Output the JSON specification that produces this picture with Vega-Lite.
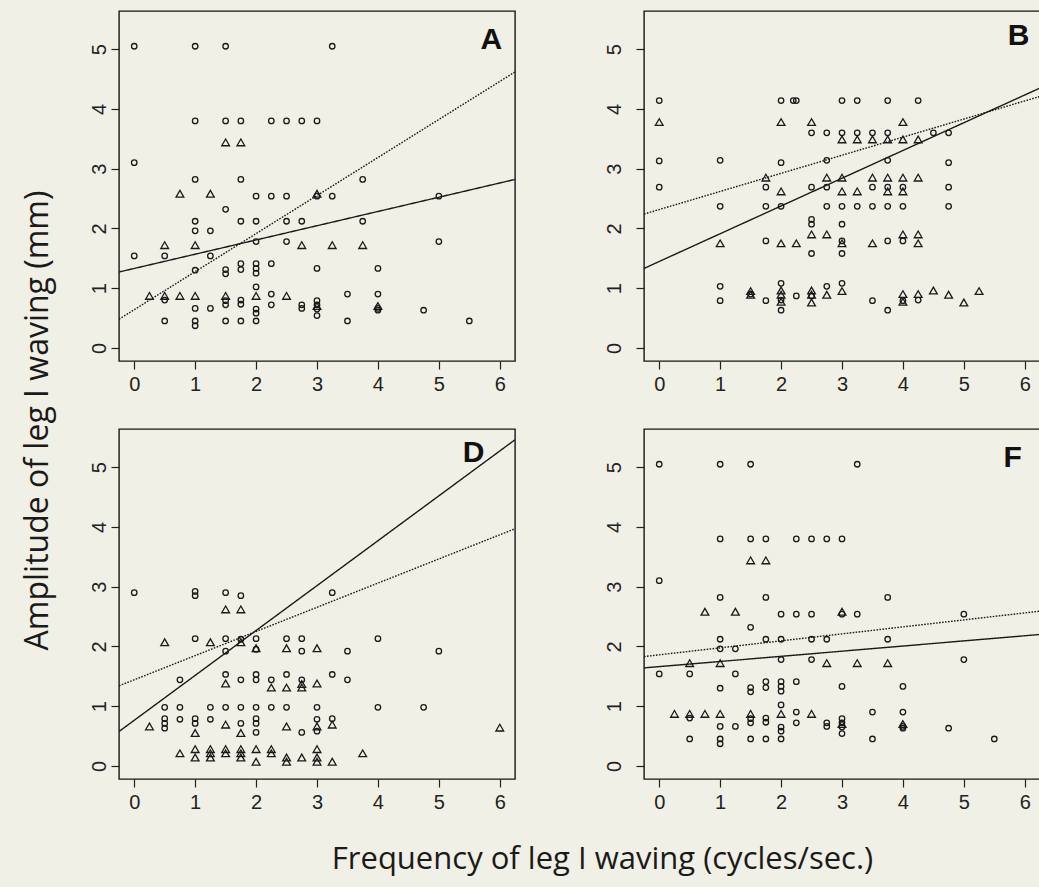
{
  "$schema": "https://vega.github.io/schema/vega-lite/v6.json",
  "background": "#f1f0e6",
  "padding": {"left": 22, "top": 10, "right": 0, "bottom": 12},
  "config": {
    "view": {"stroke": "#161616", "strokeWidth": 1.4},
    "font": "Liberation Sans",
    "axis": {"grid": false, "domain": false, "tickColor": "#222", "tickWidth": 1.2, "tickSize": 8, "labelColor": "#222", "labelFont": "Liberation Sans", "labelFontSize": 20, "title": null, "format": "d"}
  },
  "datasets": {
    "pointsAF": [
      {"x":0,"y":5.05,"s":"c"},{"x":1,"y":5.05,"s":"c"},{"x":1.5,"y":5.05,"s":"c"},{"x":3.25,"y":5.05,"s":"c"},
      {"x":1,"y":3.8,"s":"c"},{"x":1.5,"y":3.8,"s":"c"},{"x":1.75,"y":3.8,"s":"c"},{"x":2.25,"y":3.8,"s":"c"},{"x":2.5,"y":3.8,"s":"c"},{"x":2.75,"y":3.8,"s":"c"},{"x":3,"y":3.8,"s":"c"},
      {"x":0,"y":3.1,"s":"c"},
      {"x":1,"y":2.82,"s":"c"},{"x":1.75,"y":2.82,"s":"c"},{"x":3.75,"y":2.82,"s":"c"},
      {"x":2,"y":2.54,"s":"c"},{"x":2.25,"y":2.54,"s":"c"},{"x":2.5,"y":2.54,"s":"c"},{"x":3,"y":2.54,"s":"c"},{"x":3.25,"y":2.54,"s":"c"},{"x":5,"y":2.54,"s":"c"},
      {"x":1.5,"y":2.32,"s":"c"},
      {"x":1,"y":2.12,"s":"c"},{"x":1.75,"y":2.12,"s":"c"},{"x":2,"y":2.12,"s":"c"},{"x":2.5,"y":2.12,"s":"c"},{"x":2.75,"y":2.12,"s":"c"},{"x":3.75,"y":2.12,"s":"c"},
      {"x":1,"y":1.96,"s":"c"},{"x":1.25,"y":1.96,"s":"c"},
      {"x":2,"y":1.78,"s":"c"},{"x":2.5,"y":1.78,"s":"c"},{"x":5,"y":1.78,"s":"c"},
      {"x":0,"y":1.54,"s":"c"},{"x":0.5,"y":1.54,"s":"c"},{"x":1.25,"y":1.54,"s":"c"},
      {"x":1.75,"y":1.41,"s":"c"},{"x":2,"y":1.41,"s":"c"},{"x":2.25,"y":1.41,"s":"c"},
      {"x":1,"y":1.3,"s":"c"},{"x":1.5,"y":1.31,"s":"c"},{"x":1.5,"y":1.24,"s":"c"},{"x":1.75,"y":1.31,"s":"c"},{"x":2,"y":1.33,"s":"c"},{"x":2,"y":1.25,"s":"c"},{"x":3,"y":1.33,"s":"c"},{"x":4,"y":1.33,"s":"c"},
      {"x":2,"y":1.02,"s":"c"},
      {"x":2.25,"y":0.9,"s":"c"},{"x":3.5,"y":0.9,"s":"c"},{"x":4,"y":0.9,"s":"c"},
      {"x":0.5,"y":0.8,"s":"c"},{"x":1.5,"y":0.79,"s":"c"},{"x":1.5,"y":0.72,"s":"c"},{"x":1.75,"y":0.8,"s":"c"},{"x":1.75,"y":0.73,"s":"c"},{"x":2.25,"y":0.72,"s":"c"},{"x":2.75,"y":0.72,"s":"c"},{"x":2.75,"y":0.66,"s":"c"},
      {"x":3,"y":0.79,"s":"c"},{"x":3,"y":0.72,"s":"c"},{"x":3,"y":0.65,"s":"c"},{"x":3,"y":0.54,"s":"c"},{"x":2,"y":0.65,"s":"c"},{"x":2,"y":0.58,"s":"c"},{"x":4,"y":0.66,"s":"c"},{"x":4,"y":0.63,"s":"c"},
      {"x":1,"y":0.66,"s":"c"},{"x":1.25,"y":0.66,"s":"c"},{"x":4.75,"y":0.63,"s":"c"},
      {"x":0.5,"y":0.45,"s":"c"},{"x":1,"y":0.45,"s":"c"},{"x":1.5,"y":0.45,"s":"c"},{"x":1.75,"y":0.45,"s":"c"},{"x":2,"y":0.45,"s":"c"},{"x":3.5,"y":0.45,"s":"c"},{"x":5.5,"y":0.45,"s":"c"},{"x":1,"y":0.37,"s":"c"},
      {"x":1.5,"y":3.44,"s":"t"},{"x":1.75,"y":3.44,"s":"t"},{"x":0.75,"y":2.58,"s":"t"},{"x":1.25,"y":2.58,"s":"t"},{"x":3,"y":2.58,"s":"t"},
      {"x":0.5,"y":1.72,"s":"t"},{"x":1,"y":1.72,"s":"t"},{"x":2.75,"y":1.72,"s":"t"},{"x":3.25,"y":1.72,"s":"t"},{"x":3.75,"y":1.72,"s":"t"},
      {"x":0.25,"y":0.87,"s":"t"},{"x":0.5,"y":0.87,"s":"t"},{"x":0.75,"y":0.87,"s":"t"},{"x":1,"y":0.87,"s":"t"},{"x":1.5,"y":0.87,"s":"t"},{"x":2,"y":0.87,"s":"t"},{"x":2.5,"y":0.87,"s":"t"},{"x":3,"y":0.7,"s":"t"},{"x":4,"y":0.7,"s":"t"}
    ],
    "pointsB": [
      {"x":0,"y":4.14,"s":"c"},{"x":0,"y":3.13,"s":"c"},{"x":0,"y":2.69,"s":"c"},
      {"x":2,"y":4.14,"s":"c"},{"x":2.2,"y":4.14,"s":"c"},{"x":2.25,"y":4.14,"s":"c"},{"x":3,"y":4.14,"s":"c"},{"x":3.25,"y":4.14,"s":"c"},{"x":3.75,"y":4.14,"s":"c"},{"x":4.25,"y":4.14,"s":"c"},
      {"x":2.5,"y":3.6,"s":"c"},{"x":2.75,"y":3.6,"s":"c"},{"x":3,"y":3.6,"s":"c"},{"x":3.25,"y":3.6,"s":"c"},{"x":3.5,"y":3.6,"s":"c"},{"x":3.75,"y":3.6,"s":"c"},{"x":4.5,"y":3.6,"s":"c"},{"x":4.75,"y":3.6,"s":"c"},
      {"x":1,"y":3.14,"s":"c"},{"x":2.75,"y":3.14,"s":"c"},{"x":3.75,"y":3.14,"s":"c"},{"x":2,"y":3.1,"s":"c"},{"x":4.75,"y":3.1,"s":"c"},
      {"x":1.75,"y":2.69,"s":"c"},{"x":2.5,"y":2.69,"s":"c"},{"x":2.75,"y":2.69,"s":"c"},{"x":3.5,"y":2.69,"s":"c"},{"x":3.75,"y":2.69,"s":"c"},{"x":4,"y":2.69,"s":"c"},{"x":4.75,"y":2.69,"s":"c"},
      {"x":1,"y":2.37,"s":"c"},{"x":1.75,"y":2.37,"s":"c"},{"x":2,"y":2.37,"s":"c"},{"x":2.75,"y":2.37,"s":"c"},{"x":3,"y":2.37,"s":"c"},{"x":3.25,"y":2.37,"s":"c"},{"x":3.5,"y":2.37,"s":"c"},{"x":3.75,"y":2.37,"s":"c"},{"x":4,"y":2.37,"s":"c"},{"x":4.75,"y":2.37,"s":"c"},
      {"x":2.5,"y":2.15,"s":"c"},{"x":2.5,"y":2.07,"s":"c"},{"x":3,"y":2.07,"s":"c"},
      {"x":1.75,"y":1.79,"s":"c"},{"x":3,"y":1.79,"s":"c"},{"x":3.75,"y":1.79,"s":"c"},{"x":4,"y":1.79,"s":"c"},
      {"x":2.5,"y":1.58,"s":"c"},{"x":3,"y":1.58,"s":"c"},
      {"x":1,"y":1.03,"s":"c"},{"x":1,"y":0.79,"s":"c"},{"x":1.75,"y":0.79,"s":"c"},{"x":2,"y":1.08,"s":"c"},{"x":2,"y":0.8,"s":"c"},{"x":2,"y":0.63,"s":"c"},{"x":2.25,"y":0.87,"s":"c"},{"x":2.5,"y":0.87,"s":"c"},{"x":2.75,"y":1.03,"s":"c"},{"x":3,"y":1.08,"s":"c"},{"x":3.5,"y":0.79,"s":"c"},{"x":3.75,"y":0.63,"s":"c"},{"x":4,"y":0.79,"s":"c"},{"x":4.25,"y":0.8,"s":"c"},{"x":1.5,"y":0.9,"s":"c"},
      {"x":0,"y":3.78,"s":"t"},{"x":2,"y":3.78,"s":"t"},{"x":2.5,"y":3.78,"s":"t"},{"x":4,"y":3.78,"s":"t"},
      {"x":3,"y":3.49,"s":"t"},{"x":3.25,"y":3.49,"s":"t"},{"x":3.5,"y":3.49,"s":"t"},{"x":3.75,"y":3.49,"s":"t"},{"x":4,"y":3.49,"s":"t"},{"x":4.25,"y":3.49,"s":"t"},
      {"x":1.75,"y":2.85,"s":"t"},{"x":2.75,"y":2.85,"s":"t"},{"x":3,"y":2.85,"s":"t"},{"x":3.5,"y":2.85,"s":"t"},{"x":3.75,"y":2.85,"s":"t"},{"x":4,"y":2.85,"s":"t"},{"x":4.25,"y":2.85,"s":"t"},
      {"x":2,"y":2.62,"s":"t"},{"x":3,"y":2.62,"s":"t"},{"x":3.25,"y":2.62,"s":"t"},{"x":3.75,"y":2.62,"s":"t"},{"x":4,"y":2.62,"s":"t"},
      {"x":2.5,"y":1.9,"s":"t"},{"x":2.75,"y":1.9,"s":"t"},{"x":4,"y":1.9,"s":"t"},{"x":4.25,"y":1.9,"s":"t"},
      {"x":1,"y":1.75,"s":"t"},{"x":2,"y":1.75,"s":"t"},{"x":2.25,"y":1.75,"s":"t"},{"x":3,"y":1.75,"s":"t"},{"x":3.5,"y":1.75,"s":"t"},{"x":4.25,"y":1.75,"s":"t"},
      {"x":1.5,"y":0.95,"s":"t"},{"x":1.5,"y":0.89,"s":"t"},{"x":2,"y":0.96,"s":"t"},{"x":2,"y":0.89,"s":"t"},{"x":2,"y":0.77,"s":"t"},{"x":2.5,"y":0.96,"s":"t"},{"x":2.5,"y":0.89,"s":"t"},{"x":2.5,"y":0.76,"s":"t"},{"x":2.75,"y":0.89,"s":"t"},{"x":3,"y":0.95,"s":"t"},{"x":4,"y":0.9,"s":"t"},{"x":4,"y":0.77,"s":"t"},{"x":4.25,"y":0.9,"s":"t"},{"x":4.5,"y":0.96,"s":"t"},{"x":4.75,"y":0.89,"s":"t"},{"x":5,"y":0.76,"s":"t"},{"x":5.25,"y":0.95,"s":"t"}
    ],
    "pointsD": [
      {"x":0,"y":2.9,"s":"c"},{"x":1,"y":2.92,"s":"c"},{"x":1,"y":2.85,"s":"c"},{"x":1.5,"y":2.9,"s":"c"},{"x":1.75,"y":2.85,"s":"c"},{"x":3.25,"y":2.9,"s":"c"},
      {"x":1,"y":2.13,"s":"c"},{"x":1.5,"y":2.13,"s":"c"},{"x":2,"y":2.13,"s":"c"},{"x":2.5,"y":2.13,"s":"c"},{"x":2.75,"y":2.13,"s":"c"},{"x":4,"y":2.13,"s":"c"},{"x":1.75,"y":2.12,"s":"c"},
      {"x":1.5,"y":1.92,"s":"c"},{"x":2.75,"y":1.92,"s":"c"},{"x":3.5,"y":1.92,"s":"c"},{"x":5,"y":1.92,"s":"c"},{"x":2,"y":1.95,"s":"c"},
      {"x":1.5,"y":1.53,"s":"c"},{"x":2,"y":1.53,"s":"c"},{"x":2.5,"y":1.53,"s":"c"},{"x":3.25,"y":1.53,"s":"c"},
      {"x":0.75,"y":1.44,"s":"c"},{"x":1.75,"y":1.44,"s":"c"},{"x":2,"y":1.44,"s":"c"},{"x":2.25,"y":1.44,"s":"c"},{"x":2.75,"y":1.44,"s":"c"},{"x":3.5,"y":1.44,"s":"c"},
      {"x":0.5,"y":0.98,"s":"c"},{"x":0.75,"y":0.98,"s":"c"},{"x":1.25,"y":0.98,"s":"c"},{"x":1.5,"y":0.98,"s":"c"},{"x":1.75,"y":0.98,"s":"c"},{"x":2,"y":0.98,"s":"c"},{"x":2.25,"y":0.98,"s":"c"},{"x":2.5,"y":0.98,"s":"c"},{"x":3,"y":0.98,"s":"c"},{"x":4,"y":0.98,"s":"c"},{"x":4.75,"y":0.98,"s":"c"},
      {"x":0.5,"y":0.79,"s":"c"},{"x":0.5,"y":0.71,"s":"c"},{"x":0.5,"y":0.63,"s":"c"},{"x":0.75,"y":0.78,"s":"c"},{"x":1,"y":0.79,"s":"c"},{"x":1,"y":0.71,"s":"c"},{"x":1.25,"y":0.78,"s":"c"},{"x":1.75,"y":0.71,"s":"c"},{"x":2,"y":0.79,"s":"c"},{"x":2,"y":0.71,"s":"c"},{"x":3,"y":0.78,"s":"c"},{"x":3.25,"y":0.79,"s":"c"},{"x":2,"y":0.56,"s":"c"},{"x":2.75,"y":0.56,"s":"c"},{"x":3,"y":0.58,"s":"c"},
      {"x":1.5,"y":2.62,"s":"t"},{"x":1.75,"y":2.62,"s":"t"},
      {"x":0.5,"y":2.07,"s":"t"},{"x":1.25,"y":2.07,"s":"t"},{"x":1.75,"y":2.07,"s":"t"},
      {"x":2,"y":1.97,"s":"t"},{"x":2.5,"y":1.97,"s":"t"},{"x":3,"y":1.97,"s":"t"},
      {"x":1.5,"y":1.38,"s":"t"},{"x":3,"y":1.38,"s":"t"},{"x":2.25,"y":1.31,"s":"t"},{"x":2.5,"y":1.31,"s":"t"},{"x":2.75,"y":1.31,"s":"t"},{"x":2.75,"y":1.37,"s":"t"},
      {"x":0.25,"y":0.66,"s":"t"},{"x":1.5,"y":0.69,"s":"t"},{"x":2.5,"y":0.66,"s":"t"},{"x":3.25,"y":0.69,"s":"t"},{"x":3,"y":0.66,"s":"t"},{"x":6,"y":0.64,"s":"t"},
      {"x":1,"y":0.55,"s":"t"},{"x":1.75,"y":0.55,"s":"t"},
      {"x":1,"y":0.28,"s":"t"},{"x":1.25,"y":0.28,"s":"t"},{"x":1.5,"y":0.28,"s":"t"},{"x":1.75,"y":0.28,"s":"t"},{"x":2,"y":0.28,"s":"t"},{"x":2.25,"y":0.28,"s":"t"},{"x":3,"y":0.28,"s":"t"},
      {"x":0.75,"y":0.21,"s":"t"},{"x":1.25,"y":0.21,"s":"t"},{"x":1.5,"y":0.21,"s":"t"},{"x":1.75,"y":0.21,"s":"t"},{"x":2.25,"y":0.21,"s":"t"},{"x":3.75,"y":0.21,"s":"t"},
      {"x":1,"y":0.14,"s":"t"},{"x":1.25,"y":0.14,"s":"t"},{"x":1.75,"y":0.14,"s":"t"},{"x":2.5,"y":0.14,"s":"t"},{"x":2.75,"y":0.14,"s":"t"},{"x":3,"y":0.14,"s":"t"},
      {"x":2,"y":0.07,"s":"t"},{"x":2.5,"y":0.07,"s":"t"},{"x":3,"y":0.07,"s":"t"},{"x":3.25,"y":0.07,"s":"t"}
    ],
    "lines": [
      {"panel":"A","fit":"solid","x":-0.25,"y":1.27},{"panel":"A","fit":"solid","x":6.25,"y":2.82},
      {"panel":"A","fit":"dotted","x":-0.25,"y":0.48},{"panel":"A","fit":"dotted","x":6.25,"y":4.62},
      {"panel":"B","fit":"solid","x":-0.25,"y":1.33},{"panel":"B","fit":"solid","x":6.25,"y":4.35},
      {"panel":"B","fit":"dotted","x":-0.25,"y":2.24},{"panel":"B","fit":"dotted","x":6.25,"y":4.21},
      {"panel":"D","fit":"solid","x":-0.25,"y":0.575},{"panel":"D","fit":"solid","x":6.25,"y":5.46},
      {"panel":"D","fit":"dotted","x":-0.25,"y":1.34},{"panel":"D","fit":"dotted","x":6.25,"y":3.97},
      {"panel":"F","fit":"solid","x":-0.25,"y":1.64},{"panel":"F","fit":"solid","x":6.25,"y":2.2},
      {"panel":"F","fit":"dotted","x":-0.25,"y":1.83},{"panel":"F","fit":"dotted","x":6.25,"y":2.59}
    ],
    "letters": [
      {"panel":"A","x":5.86,"y":5.15,"label":"A"},
      {"panel":"B","x":5.9,"y":5.22,"label":"B"},
      {"panel":"D","x":5.57,"y":5.23,"label":"D"},
      {"panel":"F","x":5.8,"y":5.15,"label":"F"}
    ]
  },
  "title": {"text": "Amplitude of leg I waving (mm)", "orient": "left", "anchor": "middle", "font": "Open Sans", "fontSize": 32, "fontWeight": "normal", "color": "#1a1a1a", "offset": 33, "dx": 22},
  "spacing": 33,
  "vconcat": [
    {
      "spacing": 87,
      "hconcat": [
        {
          "width": 396, "height": 350,
          "layer": [
            {"data": {"name": "pointsAF"}, "mark": {"type": "point", "filled": false, "strokeWidth": 1.3, "color": "#1a1a1a", "opacity": 1},
             "encoding": {
               "x": {"field": "x", "type": "quantitative", "scale": {"domain": [-0.25, 6.25], "nice": false, "zero": false}, "axis": {"values": [0,1,2,3,4,5,6], "labelPadding": 5}},
               "y": {"field": "y", "type": "quantitative", "scale": {"domain": [-0.22, 5.64], "nice": false, "zero": false}, "axis": {"values": [0,1,2,3,4,5], "labelAngle": -90, "labelAlign": "center", "labelBaseline": "bottom", "labelPadding": 2}},
               "shape": {"field": "s", "type": "nominal", "scale": {"domain": ["c","t"], "range": ["circle","triangle-up"]}, "legend": null},
               "size": {"field": "s", "type": "ordinal", "scale": {"domain": ["c","t"], "range": [30, 60]}, "legend": null}
             }},
            {"data": {"name": "lines"}, "transform": [{"filter": "datum.panel === 'A'"}], "mark": {"type": "line", "color": "#1a1a1a", "strokeWidth": 1.4, "clip": true},
             "encoding": {"x": {"field": "x", "type": "quantitative"}, "y": {"field": "y", "type": "quantitative"}, "detail": {"field": "fit"},
               "strokeDash": {"field": "fit", "type": "nominal", "scale": {"domain": ["solid","dotted"], "range": [[1,0],[1.6,1.4]]}, "legend": null}}},
            {"data": {"name": "letters"}, "transform": [{"filter": "datum.panel === 'A'"}], "mark": {"type": "text", "font": "Liberation Sans", "fontSize": 30, "fontWeight": "bold", "color": "#111"},
             "encoding": {"x": {"field": "x", "type": "quantitative"}, "y": {"field": "y", "type": "quantitative"}, "text": {"field": "label"}}}
          ]
        },
        {
          "width": 396, "height": 350,
          "layer": [
            {"data": {"name": "pointsB"}, "mark": {"type": "point", "filled": false, "strokeWidth": 1.3, "color": "#1a1a1a", "opacity": 1},
             "encoding": {
               "x": {"field": "x", "type": "quantitative", "scale": {"domain": [-0.25, 6.25], "nice": false, "zero": false}, "axis": {"values": [0,1,2,3,4,5,6], "labelPadding": 5}},
               "y": {"field": "y", "type": "quantitative", "scale": {"domain": [-0.22, 5.64], "nice": false, "zero": false}, "axis": {"values": [0,1,2,3,4,5], "labelAngle": -90, "labelAlign": "center", "labelBaseline": "bottom", "labelPadding": 12}},
               "shape": {"field": "s", "type": "nominal", "scale": {"domain": ["c","t"], "range": ["circle","triangle-up"]}, "legend": null},
               "size": {"field": "s", "type": "ordinal", "scale": {"domain": ["c","t"], "range": [30, 60]}, "legend": null}
             }},
            {"data": {"name": "lines"}, "transform": [{"filter": "datum.panel === 'B'"}], "mark": {"type": "line", "color": "#1a1a1a", "strokeWidth": 1.4, "clip": true},
             "encoding": {"x": {"field": "x", "type": "quantitative"}, "y": {"field": "y", "type": "quantitative"}, "detail": {"field": "fit"},
               "strokeDash": {"field": "fit", "type": "nominal", "scale": {"domain": ["solid","dotted"], "range": [[1,0],[1.6,1.4]]}, "legend": null}}},
            {"data": {"name": "letters"}, "transform": [{"filter": "datum.panel === 'B'"}], "mark": {"type": "text", "font": "Liberation Sans", "fontSize": 30, "fontWeight": "bold", "color": "#111"},
             "encoding": {"x": {"field": "x", "type": "quantitative"}, "y": {"field": "y", "type": "quantitative"}, "text": {"field": "label"}}}
          ]
        }
      ]
    },
    {
      "spacing": 87,
      "title": {"text": "Frequency of leg I waving (cycles/sec.)", "orient": "bottom", "anchor": "middle", "font": "Open Sans", "fontSize": 31, "fontWeight": "normal", "color": "#1a1a1a", "offset": 32, "dx": 38},
      "hconcat": [
        {
          "width": 396, "height": 350,
          "layer": [
            {"data": {"name": "pointsD"}, "mark": {"type": "point", "filled": false, "strokeWidth": 1.3, "color": "#1a1a1a", "opacity": 1},
             "encoding": {
               "x": {"field": "x", "type": "quantitative", "scale": {"domain": [-0.25, 6.25], "nice": false, "zero": false}, "axis": {"values": [0,1,2,3,4,5,6], "labelPadding": 5}},
               "y": {"field": "y", "type": "quantitative", "scale": {"domain": [-0.22, 5.64], "nice": false, "zero": false}, "axis": {"values": [0,1,2,3,4,5], "labelAngle": -90, "labelAlign": "center", "labelBaseline": "bottom", "labelPadding": 2}},
               "shape": {"field": "s", "type": "nominal", "scale": {"domain": ["c","t"], "range": ["circle","triangle-up"]}, "legend": null},
               "size": {"field": "s", "type": "ordinal", "scale": {"domain": ["c","t"], "range": [30, 60]}, "legend": null}
             }},
            {"data": {"name": "lines"}, "transform": [{"filter": "datum.panel === 'D'"}], "mark": {"type": "line", "color": "#1a1a1a", "strokeWidth": 1.4, "clip": true},
             "encoding": {"x": {"field": "x", "type": "quantitative"}, "y": {"field": "y", "type": "quantitative"}, "detail": {"field": "fit"},
               "strokeDash": {"field": "fit", "type": "nominal", "scale": {"domain": ["solid","dotted"], "range": [[1,0],[1.6,1.4]]}, "legend": null}}},
            {"data": {"name": "letters"}, "transform": [{"filter": "datum.panel === 'D'"}], "mark": {"type": "text", "font": "Liberation Sans", "fontSize": 30, "fontWeight": "bold", "color": "#111"},
             "encoding": {"x": {"field": "x", "type": "quantitative"}, "y": {"field": "y", "type": "quantitative"}, "text": {"field": "label"}}}
          ]
        },
        {
          "width": 396, "height": 350,
          "layer": [
            {"data": {"name": "pointsAF"}, "mark": {"type": "point", "filled": false, "strokeWidth": 1.3, "color": "#1a1a1a", "opacity": 1},
             "encoding": {
               "x": {"field": "x", "type": "quantitative", "scale": {"domain": [-0.25, 6.25], "nice": false, "zero": false}, "axis": {"values": [0,1,2,3,4,5,6], "labelPadding": 5}},
               "y": {"field": "y", "type": "quantitative", "scale": {"domain": [-0.22, 5.64], "nice": false, "zero": false}, "axis": {"values": [0,1,2,3,4,5], "labelAngle": -90, "labelAlign": "center", "labelBaseline": "bottom", "labelPadding": 12}},
               "shape": {"field": "s", "type": "nominal", "scale": {"domain": ["c","t"], "range": ["circle","triangle-up"]}, "legend": null},
               "size": {"field": "s", "type": "ordinal", "scale": {"domain": ["c","t"], "range": [30, 60]}, "legend": null}
             }},
            {"data": {"name": "lines"}, "transform": [{"filter": "datum.panel === 'F'"}], "mark": {"type": "line", "color": "#1a1a1a", "strokeWidth": 1.4, "clip": true},
             "encoding": {"x": {"field": "x", "type": "quantitative"}, "y": {"field": "y", "type": "quantitative"}, "detail": {"field": "fit"},
               "strokeDash": {"field": "fit", "type": "nominal", "scale": {"domain": ["solid","dotted"], "range": [[1,0],[1.6,1.4]]}, "legend": null}}},
            {"data": {"name": "letters"}, "transform": [{"filter": "datum.panel === 'F'"}], "mark": {"type": "text", "font": "Liberation Sans", "fontSize": 30, "fontWeight": "bold", "color": "#111"},
             "encoding": {"x": {"field": "x", "type": "quantitative"}, "y": {"field": "y", "type": "quantitative"}, "text": {"field": "label"}}}
          ]
        }
      ]
    }
  ]
}
